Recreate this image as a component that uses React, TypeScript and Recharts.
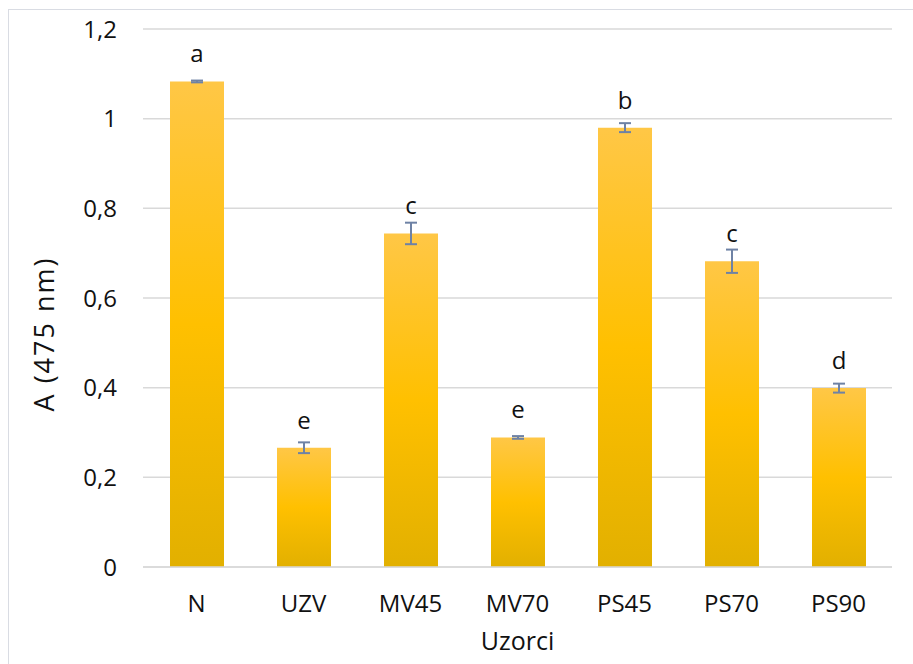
import React from 'react';
import { BarChart, Bar, XAxis, YAxis, CartesianGrid, ErrorBar, LabelList, Label } from 'recharts';

const categories = ['N', 'UZV', 'MV45', 'MV70', 'PS45', 'PS70', 'PS90'];
const values = [1.083, 0.266, 0.744, 0.289, 0.980, 0.682, 0.399];
const errors = [0.002, 0.012, 0.024, 0.003, 0.01, 0.026, 0.01];
const letters = ['a', 'e', 'c', 'e', 'b', 'c', 'd'];
const yTicks = [0, 0.2, 0.4, 0.6, 0.8, 1, 1.2];

const data = categories.map((c, i) => ({ name: c, value: values[i], err: errors[i], letter: letters[i] }));

const FONT = 'Open Sans, sans-serif';
const fmt = (v: number) => String(Math.round(v * 10) / 10).replace('.', ',');

export default function App() {
  return (
    <div style={{ position: 'absolute', left: 0, top: 0, width: 913, height: 664, overflow: 'hidden', background: '#fff' }}>
      <div style={{ position: 'absolute', left: 8, top: 9, width: 1000, height: 1000, borderLeft: '1px solid #D9DCE3', borderTop: '1px solid #D9DCE3' }} />
      <div style={{ position: 'absolute', left: 0, top: 0 }}>
        <BarChart width={913} height={664} data={data} margin={{ top: 29, right: 21, left: 0, bottom: 0 }} barSize={54}>
          <defs>
            <linearGradient id="gold" x1="0" y1="0" x2="0" y2="1">
              <stop offset="0%" stopColor="#FFC746" />
              <stop offset="50%" stopColor="#FFC000" />
              <stop offset="100%" stopColor="#E2B000" />
            </linearGradient>
          </defs>
          <CartesianGrid vertical={false} stroke="#D9D9D9" strokeWidth={1.5} />
          <XAxis
            dataKey="name"
            height={97}
            tickLine={false}
            tickSize={0}
            tickMargin={28}
            axisLine={{ stroke: '#D9D9D9', strokeWidth: 1.5 }}
            tick={{ fill: '#111', fontSize: 24, fontFamily: FONT }}
          >
            <Label
              content={(props: any) => {
                const vb = props.viewBox;
                return (
                  <text x={vb.x + vb.width / 2} y={vb.y + 83} textAnchor="middle" fill="#111" fontSize={25} fontFamily={FONT}>
                    Uzorci
                  </text>
                );
              }}
            />
          </XAxis>
          <YAxis
            width={143}
            domain={[0, 1.2]}
            ticks={yTicks}
            tickFormatter={fmt}
            axisLine={false}
            tickLine={false}
            tickSize={0}
            tickMargin={26}
            tick={{ fill: '#111', fontSize: 24, fontFamily: FONT }}
          >
            <Label
              content={(props: any) => {
                const vb = props.viewBox;
                const cx = 54;
                const cy = vb.y + vb.height / 2 + 36;
                return (
                  <text x={cx} y={cy} transform={`rotate(-90 ${cx} ${cy})`} textAnchor="middle" fill="#111" fontSize={27} letterSpacing={2} fontFamily={FONT}>
                    A (475 nm)
                  </text>
                );
              }}
            />
          </YAxis>
          <Bar dataKey="value" fill="url(#gold)" isAnimationActive={false}>
            <ErrorBar dataKey="err" width={6} stroke="#6E82A5" strokeWidth={2} direction="y" />
            <LabelList dataKey="letter" position="top" offset={19} fill="#111" fontSize={24} fontFamily={FONT} />
          </Bar>
        </BarChart>
      </div>
    </div>
  );
}
